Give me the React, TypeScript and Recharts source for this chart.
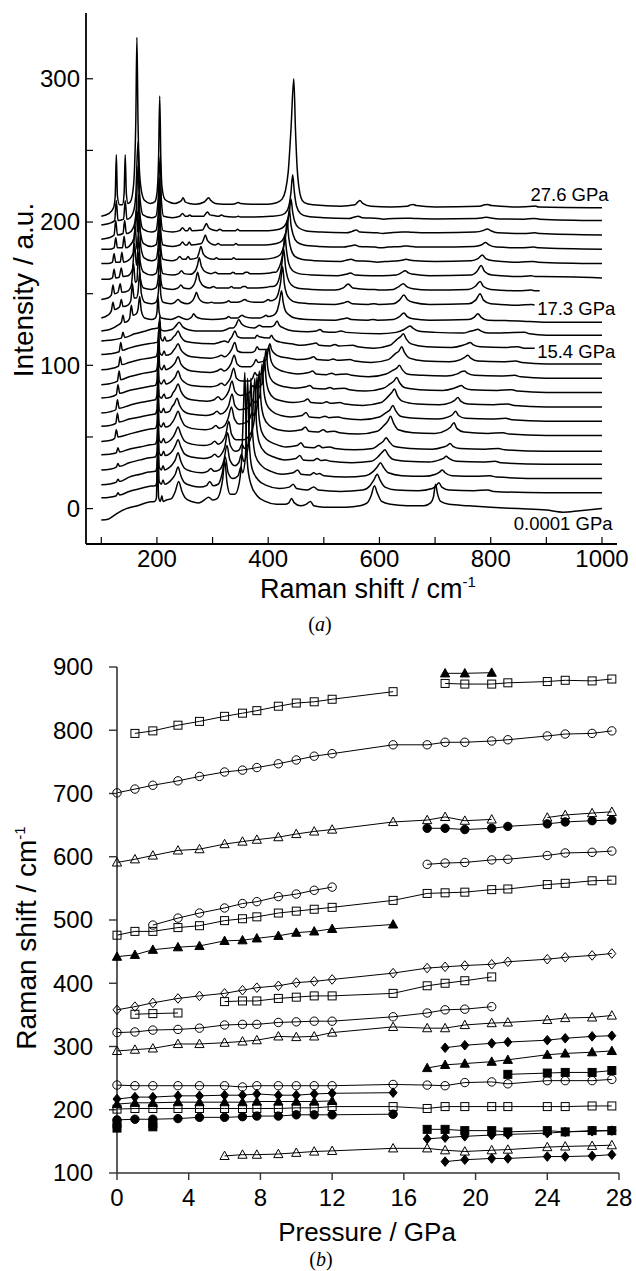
import React from 'react'
import { LineChart, Line, XAxis, YAxis, ReferenceDot } from 'recharts'

const SANS = '"Liberation Sans", Arial, Helvetica, sans-serif'
const SERIF = '"Liberation Serif", "Times New Roman", serif'

// ---------- panel (a): Raman spectra, bottom (0.0001 GPa) to top (27.6 GPa) ----------
const pressures = [0, 1, 2, 3.4, 4.6, 6.0, 7.0, 7.8, 9.0, 10.0, 11.0, 12.0, 15.4, 17.3, 18.3, 19.4, 20.9, 21.8, 24.0, 25.0, 26.5, 27.6]
// vertical offset of each trace (a.u.)
const offsets = [0, 11, 21, 31, 40, 51, 61, 71, 81, 91, 101, 111, 121, 130, 141, 151, 161, 171, 181, 191, 201, 210]

// [Raman shift, intensity above the trace offset]
const spec0 = [[100,-8],[112,-7.5],[122,-5],[130,-3],[145,0],[165,2],[184,4.5],[196,5],[199,7],[201,38],[203,8],[206,5],[209,9],[211,5],[217,6],[226,7],[233,12],[239,19],[245,12],[252,7],[262,5],[275,4],[285,6],[293,8],[300,6],[308,7],[314,12],[318,20],[322,33],[326,18],[332,10],[340,10],[348,18],[353,40],[356,75],[358,95],[360,60],[363,30],[369,17],[380,9],[395,5],[415,3],[430,3],[437,4],[442,7],[447,4],[458,2],[468,3],[476,5],[482,2],[500,1],[540,1],[565,2],[578,4],[585,9],[591,16],[596,11],[604,5],[620,3],[650,2],[680,2],[692,4],[697,8],[701,17],[704,11],[710,5],[725,3],[760,2],[800,1],[850,0],[900,-1],[930,-2.5],[960,-1.5],[1000,0]]
const spec1 = [[100,-3.5],[115,-3],[127,-2],[130,0],[133,-1.5],[150,1],[170,3],[185,4.5],[197,5],[200,8],[202,31],[204,8],[208,6],[211,9],[214,6],[220,7],[228,10],[233,13],[238,18],[243,12],[250,7],[262,5],[278,4],[289,5],[295,8],[301,5],[310,6],[317,13],[323,25],[328,14],[336,10],[346,12],[351,18],[354,14],[359,25],[363,80],[366,35],[371,17],[382,9],[398,5],[420,3],[438,4],[445,6],[451,3],[470,2],[482,4],[490,2],[530,1],[570,2],[583,5],[590,9],[596,13],[601,9],[610,4],[630,2],[670,1.5],[695,3],[702,5],[707,7],[712,4],[725,2],[770,1.5],[795,2],[805,1],[900,0],[1000,0]]
const spec2 = [[100,-4.4],[115,-3.8],[127,-2.5],[130,-0.5],[133,-2],[150,1],[170,3],[185,4.5],[197,5],[200,8],[202,29],[204,8],[208,6],[211,9],[214,6],[220,7],[228,10],[233,13],[238,18],[243,12],[250,7],[262,5],[280,4],[291,5],[297,7],[303,5],[312,6],[320,12],[326,23],[331,13],[340,9],[347,11],[352,17],[356,12],[364,22],[369,70],[372,32],[377,16],[388,9],[405,5],[425,3],[445,4],[453,6],[459,3],[475,2.5],[482,4],[487,3],[492,3.5],[500,2],[540,1],[575,2],[589,5],[596,8],[602,11],[607,8],[616,4],[640,2],[680,1.5],[701,3],[708,4.5],[713,6],[718,4],[730,2],[775,1.5],[799,2],[810,1],[900,0],[1000,0]]
const spec3 = [[100,-4],[115,-3.5],[127,-2],[130,0.5],[133,-1.5],[150,1],[170,3],[186,4.5],[197,5],[200,8],[202,28],[204,8],[208,6],[212,9],[215,6],[222,7],[229,10],[233,13],[238,17],[243,12],[250,7],[262,5],[285,4],[297,5],[304,7],[310,5],[316,7],[322,12],[327,22],[332,13],[341,9],[348,10],[353,14],[357,11],[370,20],[376,60],[379,28],[384,15],[395,8],[410,5],[430,3],[450,4],[457,6],[463,3],[480,2.5],[488,4],[495,2.5],[503,3],[512,2],[550,1],[585,2],[597,5],[604,8],[610,10],[615,7],[624,3.5],[650,2],[690,1.5],[708,3],[715,4],[720,5.5],[725,4],[738,2],[785,1.5],[808,2],[818,1],[900,0],[1000,0]]
const spec4 = [[100,-2.4],[115,-2],[127,-1],[130,2.5],[133,-0.5],[150,1.5],[170,3],[188,4.5],[197,5],[200,8],[202,27],[204,8],[208,6],[212,9],[215,6],[222,7],[229,10],[233,13],[238,17],[243,12],[250,7],[262,5],[285,4],[297,5],[304,7],[310,5],[318,7],[324,12],[329,21],[334,12],[343,8],[355,8],[368,12],[375,22],[380,52],[383,26],[388,14],[398,8],[413,5],[432,3],[452,4],[459,6],[465,3],[482,2.5],[491,4],[498,2.5],[511,3],[520,2],[555,1],[588,2],[600,5],[607,7],[612,9.5],[617,7],[626,3.5],[655,2],[695,1.5],[715,3],[722,4],[727,5.5],[732,3.5],[745,2],[790,1.5],[814,2],[825,1],[900,0],[1000,0]]
const spec5 = [[100,-4.1],[115,-3.5],[124,-2],[127,4],[130,-1],[150,1],[170,3],[188,4.5],[197,5],[200,8],[202,27],[204,8],[208,6],[212,9],[215,6],[223,7],[229,10],[233,13],[238,17],[243,12],[250,7],[262,5],[287,4],[299,5],[306,7],[312,5],[322,7],[328,12],[334,20],[339,12],[348,8],[360,9],[367,12],[371,16],[375,14],[380,20],[384,45],[387,24],[392,13],[402,7],[418,4],[438,3],[460,4],[467,6],[473,3],[490,2.5],[499,4],[506,2.5],[519,3],[528,2],[562,1],[596,3],[608,7],[615,10],[620,13.5],[625,9],[634,4],[660,2],[700,1.5],[721,4],[728,6],[734,9],[739,5],[752,2.5],[795,1.5],[822,2],[833,1],[900,0],[1000,0]]
const spec6 = [[100,-3.6],[115,-3],[126,-1.5],[129,5.5],[132,-0.5],[150,1.5],[170,3],[189,4.5],[197,5],[200,8],[202,27],[204,8],[208,6],[212,9],[215,6],[223,7],[227,10],[231,12],[236,16],[241,11],[248,7],[260,5],[289,4],[301,5],[308,7],[314,5],[323,7],[329,11],[335,19],[340,11],[349,8],[362,9],[368,11],[372,15],[376,13],[385,18],[389,40],[392,22],[397,12],[407,7],[423,4],[440,3],[461,4],[468,6],[474,3],[493,2.5],[502,3.5],[509,2.5],[526,3],[535,2],[566,1],[600,3],[612,6],[619,8],[624,11],[629,7.5],[638,3.5],[665,2],[705,1.5],[724,3],[731,4.5],[737,7],[742,4],[755,2],[800,1.5],[827,2],[838,1],[900,0],[1000,0]]
const spec7 = [[100,-4.3],[115,-3.5],[126,-2],[129,5],[132,-1],[150,1],[170,3],[190,4.5],[197,5],[200,8],[202,26],[204,8],[208,6],[213,9],[216,6],[225,7],[229,10],[233,12],[238,16],[243,11],[250,7],[262,5],[291,4],[303,5],[310,7],[316,5],[323,7],[329,11],[335,18],[340,11],[350,8],[362,9],[368,11],[372,15],[377,13],[389,16],[393,35],[396,20],[401,11],[411,6],[427,4],[445,3],[464,4],[471,5.5],[477,3],[496,2.5],[505,3.5],[512,2.5],[529,3],[538,2],[570,1],[603,3],[615,7],[622,10],[627,12.5],[632,8],[641,4],[668,2],[708,1.5],[728,3],[735,4.5],[741,6.5],[746,4],[759,2],[805,1.5],[831,2],[842,1],[900,0],[1000,0]]
const spec8 = [[100,-3.8],[115,-3.2],[127,-1.5],[130,5.5],[133,-0.5],[150,1.5],[170,3],[190,4.5],[197,5],[200,8],[202,26],[204,8],[208,6],[213,9],[216,6],[223,7],[229,9],[233,11],[238,15],[243,10],[250,7],[262,5],[297,4],[309,5],[316,6.5],[322,5],[327,7],[332,10],[338,17],[343,10],[352,8],[366,8],[372,10],[376,14],[380,12],[392,15],[396,30],[399,18],[404,10],[414,6],[430,4],[448,3],[468,4],[475,5],[481,3],[502,2.5],[511,3.5],[518,2.5],[537,3],[546,2],[575,1],[607,3],[619,6],[626,8],[631,10.5],[636,7],[645,3.5],[672,2],[714,1.5],[734,3],[741,4],[747,5],[752,3.5],[765,2],[812,1.5],[838,2],[849,1],[900,0],[1000,0]]
const spec9 = [[100,-4.5],[115,-3.8],[129,-2],[132,5],[135,-1],[150,1],[170,3],[192,4.5],[198,5],[201,8],[203,25],[205,8],[209,6],[213,9],[216,6],[223,7],[229,9],[233,11],[238,15],[243,10],[250,7],[262,5],[296,4],[308,5],[315,6.5],[321,5],[328,7],[333,10],[339,16],[344,10],[353,8],[368,8],[374,10],[378,13],[382,11],[397,13],[401,22],[404,14],[409,9],[419,6],[435,4],[453,3],[473,4],[480,5],[486,3],[505,2.5],[514,3.5],[521,2.5],[541,3],[550,2],[580,1],[612,3],[624,5.5],[631,7],[636,9],[641,6],[650,3],[677,2],[720,1.5],[740,3],[747,4.5],[753,5],[758,3.5],[771,2],[817,1.5],[843,2],[854,1],[900,0],[1000,0]]
const spec10 = [[100,-4],[115,-3.5],[131,-1.5],[134,5],[137,-0.5],[150,1],[170,3],[192,4.5],[198,5],[201,8],[203,24],[205,8],[209,6],[213,9],[216,6],[225,7],[229,9],[233,11],[238,14],[243,10],[250,7],[262,5],[297,4],[309,5],[316,6],[322,5],[329,7],[334,10],[340,15],[345,9],[354,8],[370,8],[376,9],[380,12],[384,10],[399,10],[403,14],[406,10],[412,7],[422,5],[438,4],[456,3],[475,4],[482,5],[488,3],[508,2.5],[517,3.5],[524,2.5],[547,3],[556,2],[585,1],[616,3],[628,7],[635,9],[640,12],[645,8],[654,4],[681,2],[726,1.5],[746,3],[753,4.5],[759,6],[764,4],[777,2],[820,1.5],[845,2],[856,1],[900,0],[1000,0]]
const spec11 = [[100,-3.5],[115,-3],[132,-1.5],[135,5],[138,-0.5],[150,1],[170,3],[192,4.5],[200,5],[203,8],[205,23],[207,8],[211,6],[214,9],[217,6],[226,7],[230,9],[233,10],[238,13],[243,9],[250,6],[262,5],[300,4],[312,5],[322,6],[328,5],[331,7],[335,9],[340,13],[345,9],[354,8],[370,8],[376,8],[380,10],[384,9],[402,8],[406,10],[409,8],[415,6],[425,5],[442,4],[460,3],[479,4],[486,4.5],[492,3],[511,2.5],[520,3.5],[527,2.5],[552,3],[561,2],[590,1],[619,3],[631,7],[638,9],[643,11],[648,7.5],[657,4],[684,2],[730,1.5],[750,3],[757,4],[763,5],[768,3.5],[781,2],[825,1.5],[849,2],[860,1],[879,1]]
const spec12 = [[100,-4],[115,-3.5],[136,-2],[139,2],[142,-1.5],[160,1],[180,3],[193,4.5],[202,5],[205,10],[207,4],[213,3],[227,4],[233,6],[240,9],[246,6],[255,4],[270,3],[315,3],[325,4],[331,5],[337,5],[342,7],[347,11],[352,8],[360,6],[375,5],[380,6],[384,7],[390,6],[405,6],[411,7],[416,10],[420,7],[428,5],[445,3],[470,2.5],[487,3],[493,4],[499,2.5],[520,2],[531,3],[540,2],[600,1],[630,2],[644,4],[650,5.5],[655,6.5],[660,5],[670,3],[700,2],[750,1.5],[765,3],[771,3.5],[777,4.2],[782,3],[795,1.5],[861,2],[870,1],[900,0],[1000,0]]
const spec13 = [[100,-6],[115,-5],[130,-2],[136,0],[139,5],[142,0],[148,1],[151,3],[154,12],[157,5],[163,6],[166,9],[169,18],[172,8],[178,3],[190,2],[197,3],[200,7],[202,18],[204,7],[208,3],[225,2],[233,3],[239,4],[245,3],[255,2],[260,3],[263,4],[266,6],[270,4],[280,2.5],[300,2],[320,2.5],[325,3],[329,4],[333,3],[345,3],[349,4],[353,5],[357,4],[370,3],[385,3],[392,4],[396,5],[400,4],[410,5],[416,8],[420,14],[424,22],[427,14],[431,8],[438,5],[448,3],[470,2],[520,1.5],[535,2.5],[542,3],[549,2],[580,1.5],[588,2],[596,1.5],[625,2],[636,4],[644,6.5],[650,4],[660,2.5],[690,1.5],[760,2],[770,3.5],[777,6],[783,3.5],[795,1.5],[850,1],[900,0],[1000,0]]
const spec14 = [[100,-8],[112,-6],[118,-3],[121,3],[124,-2],[130,-1],[133,0],[136,5],[139,0],[148,1],[153,4],[156,16],[159,6],[163,6],[166,10],[169,24],[172,9],[178,3],[190,2],[198,3],[202,8],[205,22],[207,8],[211,3],[225,2],[232,3],[238,5],[244,3],[255,2],[264,4],[268,7],[271,10],[275,6],[283,3],[292,2.5],[298,3],[303,2.5],[315,2.5],[324,3],[329,4],[333,3],[345,3],[353,4],[358,5],[362,4],[375,3],[390,3],[396,4],[400,5],[404,4],[412,5],[418,9],[422,16],[426,28],[429,16],[433,9],[440,5],[450,3],[475,2],[520,1.5],[535,2.5],[543,3.5],[551,2],[580,1.5],[590,2],[598,1.5],[625,2],[636,4.5],[644,8],[650,5],[660,3],[690,1.5],[760,2],[773,4.5],[781,9],[787,4.5],[800,2],[850,1],[874,1.5],[879,1]]
const spec15 = [[100,-5],[112,-4],[118,-2],[121,5],[124,-1],[130,0],[134,6],[137,0],[148,1],[154,5],[158,20],[161,7],[164,8],[167,28],[170,10],[176,3],[190,2],[198,3],[202,9],[205,26],[207,9],[211,3],[228,2],[238,3],[243,5],[248,3],[258,2.5],[266,5],[270,9],[273,14],[277,8],[285,4],[295,3],[302,4],[307,3],[320,3],[329,3],[334,4],[338,3],[350,3],[355,4],[359,4],[363,3],[380,3],[398,3.5],[404,4],[408,4],[414,5],[420,10],[424,18],[428,30],[431,18],[435,10],[442,5],[452,3],[478,2],[520,1.5],[535,3],[544,5.8],[552,3],[580,2],[591,2],[600,1.5],[625,2],[635,4],[643,6],[649,4],[660,2.5],[690,1.5],[760,2],[772,4],[781,7.5],[787,4],[800,2],[850,1],[873,1.5],[880,1],[888,1]]
const spec16 = [[100,-1],[112,-1],[120,0],[123,6],[126,0],[132,0.5],[136,7],[139,1],[148,1.5],[156,6],[160,24],[163,9],[164,9],[167,30],[170,11],[176,4],[190,2],[198,3],[202,10],[205,30],[207,10],[211,3],[228,2],[239,3],[244,5],[249,3],[260,2.5],[269,5],[273,9],[276,14],[280,8],[288,4],[298,3],[305,4],[310,3],[322,3],[332,3],[337,4],[341,3],[355,3],[359,4],[363,4],[367,3],[385,3],[404,3.5],[410,4],[414,4],[418,6],[423,11],[427,19],[430,30],[433,19],[437,10],[444,5],[455,3],[480,2],[525,1.5],[540,2.5],[548,3.5],[556,2],[585,1.5],[595,1.6],[605,1.5],[630,2],[639,3.5],[646,5],[652,3.5],[662,2.5],[690,1.5],[765,2],[775,4.5],[783,8.6],[789,4.5],[802,2],[850,1],[873,1.5],[880,1],[890,1],[1000,0]]
const spec17 = [[100,0],[112,0],[120,1],[123,7],[126,1],[134,1],[137,8],[140,1],[148,2],[157,7],[161,26],[164,10],[165,10],[168,34],[171,12],[177,4],[190,2],[198,3],[202,11],[205,32],[207,11],[211,3],[226,2],[236,3],[241,5],[246,3],[252,3],[256,5],[260,3],[272,4],[276,8],[279,12],[283,7],[291,4],[302,3],[307,4],[312,3],[325,3],[334,3],[338,4],[342,3],[360,3],[390,3],[410,4],[421,6],[427,11],[431,18],[434,30],[437,18],[441,10],[448,5],[460,3],[485,2],[530,1.5],[542,2.5],[549,3],[557,2],[585,1.5],[596,1],[610,1.5],[635,2],[642,2.5],[648,3],[654,2.5],[665,2],[700,1.5],[765,2],[777,3.5],[785,6],[791,3.5],[805,2],[850,1],[875,1.5],[885,1],[1000,0]]
const spec18 = [[100,0],[114,0],[123,1],[126,8],[129,1],[138,1],[141,9],[144,1],[150,2],[159,8],[163,28],[165,12],[167,38],[170,13],[176,4],[190,2],[198,3],[202,12],[205,36],[207,12],[211,3],[228,2],[241,3],[246,5],[251,3],[254,3],[258,5],[262,3],[280,4],[284,7],[287,10],[291,6],[299,3.5],[305,3],[310,4],[315,3],[330,3],[338,3],[342,4],[346,3],[365,3],[395,3],[415,4],[425,6],[431,11],[435,17],[438,28],[441,17],[445,10],[452,5],[464,3],[490,2],[535,1.5],[549,2.5],[556,3],[563,2],[592,1.5],[602,1],[615,1.5],[640,2],[645,2.2],[650,2.3],[656,2],[670,1.5],[700,1.5],[770,2],[783,3],[791,4.7],[797,3],[810,1.5],[855,1],[877,1.5],[887,1],[1000,0]]
const spec19 = [[100,-3],[114,-2],[123,0],[126,10],[129,0],[139,1],[142,10],[145,1],[152,2],[160,8],[163,18],[166,48],[169,16],[175,4],[190,2],[198,3],[202,13],[205,40],[207,13],[211,3],[228,2],[241,3],[246,5],[251,3],[255,3],[259,5],[263,3],[282,3.5],[286,6],[289,8],[293,5],[301,3.5],[308,3],[313,4],[318,3],[333,3],[341,3],[345,4],[349,3],[370,3],[400,3],[420,4],[429,6],[435,11],[438,16],[441,25],[444,16],[448,9],[455,5],[467,3],[495,2],[540,1.5],[551,2.5],[558,3.5],[565,2],[596,1.5],[606,1],[620,1.5],[640,2],[646,2],[652,2],[658,1.8],[675,1.5],[705,1.5],[772,2],[786,3],[794,4.2],[800,3],[812,1.5],[860,1],[879,1.5],[889,1],[1000,0]]
const spec20 = [[100,-3],[114,-2],[124,0],[127,14],[130,0],[140,1],[143,14],[146,1],[152,2],[159,8],[162,18],[166,55],[169,18],[175,4],[190,2],[198,3],[202,14],[206,45],[208,14],[212,3],[228,2],[241,3],[246,5],[251,3],[255,3],[259,4],[263,3],[284,3],[288,5],[291,6],[295,4],[303,3.5],[311,3],[316,4],[321,3],[336,2.5],[342,2.5],[346,3],[350,2.5],[375,2.5],[405,3],[425,4],[434,7],[439,14],[441,20],[444,32],[447,20],[451,10],[458,5],[470,3],[500,2],[545,1.5],[555,2.5],[562,3],[569,2],[598,1.5],[607,1],[625,1.5],[648,1.6],[657,1.6],[665,1.5],[700,1.2],[775,1.5],[786,2],[792,2.3],[798,2],[815,1.2],[860,1],[878,1.5],[888,1],[1000,0]]
const spec21 = [[100,-6],[114,-4],[122,0],[125,8],[127,37],[129,8],[133,2],[138,2],[141,10],[143,37],[145,10],[148,3],[152,4],[157,12],[160,30],[162,60],[164,119],[166,60],[168,30],[172,12],[178,5],[188,3],[196,4],[200,10],[203,35],[205,78],[207,35],[209,15],[214,6],[222,4],[232,3],[240,4],[244,5],[247,7],[251,4],[258,3],[270,2.5],[285,4],[290,6],[293,7],[297,5],[305,3],[320,2.5],[335,2.5],[342,3],[346,3.7],[350,3],[370,2.5],[400,2.5],[415,3.5],[425,6],[431,12],[436,25],[441,55],[446,90],[449,55],[452,28],[455,15],[459,7],[465,3.5],[480,2],[530,1],[556,2],[561,4],[565,5],[570,3],[585,1],[620,0.5],[650,1],[656,2],[661,2.3],[666,1.5],[700,0.5],[780,1],[789,2],[795,2.3],[801,1.5],[850,0.5],[875,1],[880,1.2],[886,0.5],[1000,0]]

const spectra = [spec0, spec1, spec2, spec3, spec4, spec5, spec6, spec7, spec8, spec9, spec10, spec11, spec12, spec13, spec14, spec15, spec16, spec17, spec18, spec19, spec20, spec21]

// pressure labels: [text, right-end shift, level]
const traceLabels: [string, number, number][] = [
  ['27.6 GPa', 1012, 219],
  ['17.3 GPa', 1024, 140],
  ['15.4 GPa', 1024, 110],
  ['0.0001 GPa', 1019, -10],
]

// ---------- panel (b): band positions vs pressure, [GPa, cm-1] ----------
const sqA = [[1,795],[2,799],[3.4,808],[4.6,814],[6,822],[7,827],[7.8,831],[9,838],[10,843],[11,845],[12,849],[15.4,861]]
const sqB = [[18.3,874],[19.4,873],[20.9,873],[21.8,875],[24,877],[25,879],[26.5,878],[27.6,881]]
const triC = [[18.3,890],[19.4,890],[20.9,891]]
const cirD = [[0,701],[1,707],[2,713],[3.4,720],[4.6,727],[6,734],[7,737],[7.8,741],[9,747],[10,753],[11,759],[12,763],[15.4,777],[17.3,777],[18.3,781],[19.4,781],[20.9,783],[21.8,785],[24,791],[25,794],[26.5,795],[27.6,799]]
const triE1 = [[0,591],[1,596],[2,602],[3.4,610],[4.6,612],[6,620],[7,624],[7.8,627],[9,631],[10,636],[11,640],[12,643],[15.4,655],[17.3,658],[18.3,663],[19.4,657],[20.9,659]]
const triE2 = [[24,662],[25,666],[26.5,669],[27.6,671]]
const cirF = [[17.3,645],[18.3,645],[19.4,643],[20.9,645],[21.8,648],[24,652],[25,655],[26.5,657],[27.6,658]]
const cirG = [[17.3,588],[18.3,590],[19.4,591],[20.9,595],[21.8,596],[24,602],[25,606],[26.5,607],[27.6,609]]
const cirH = [[2,492],[3.4,503],[4.6,511],[6,519],[7,526],[7.8,529],[9,537],[10,541],[11,547],[12,552]]
const sqI = [[0,476],[1,482],[2,482],[3.4,488],[4.6,491],[6,499],[7,502],[7.8,505],[9,511],[10,514],[11,517],[12,520],[15.4,531],[17.3,542],[18.3,543],[19.4,544],[20.9,548],[21.8,549],[24,556],[25,558],[26.5,562],[27.6,563]]
const triJ = [[0,442],[1,445],[2,453],[3.4,457],[4.6,459],[6,467],[7,468],[7.8,471],[9,475],[10,480],[11,482],[12,486],[15.4,493]]
const diaK = [[0,358],[1,363],[2,369],[3.4,376],[4.6,380],[6,384],[7,389],[7.8,393],[9,396],[10,401],[11,403],[12,406],[15.4,416],[17.3,424],[18.3,426],[19.4,428],[20.9,430],[21.8,434],[24,438],[25,441],[26.5,444],[27.6,447]]
const sqL = [[1,351],[2,352],[3.4,353]]
const sqM = [[6,371],[7,372],[7.8,372],[9,376],[10,378],[11,380],[12,380],[15.4,384],[17.3,396],[18.3,400],[19.4,404],[20.9,410]]
const cirN = [[0,322],[1,323],[2,326],[3.4,327],[4.6,329],[6,334],[7,335],[7.8,335],[9,338],[10,339],[11,340],[12,340],[15.4,347],[17.3,353],[18.3,358],[19.4,359],[20.9,363]]
const triO = [[0,293],[1,295],[2,297],[3.4,304],[4.6,304],[6,306],[7,308],[7.8,310],[9,316],[10,315],[11,316],[12,322],[15.4,331],[17.3,329],[18.3,329],[19.4,334],[20.9,337],[21.8,338],[24,342],[25,345],[26.5,346],[27.6,349]]
const diaP = [[18.3,298],[19.4,302],[20.9,305],[21.8,307],[24,310],[25,313],[26.5,316],[27.6,317]]
const triQ = [[17.3,266],[18.3,271],[19.4,273],[20.9,276],[21.8,279],[24,287],[25,289],[26.5,291],[27.6,293]]
const sqR = [[21.8,256],[24,258],[25,259],[26.5,259],[27.6,262]]
const cirS = [[0,239],[1,238],[2,238],[3.4,238],[4.6,238],[6,238],[7,236],[7.8,238],[9,238],[10,238],[11,238],[12,238],[15.4,240],[17.3,239],[18.3,238],[19.4,243],[20.9,244],[21.8,241],[24,246],[25,246],[26.5,246],[27.6,248]]
const diaT = [[0,217],[1,220],[2,220],[3.4,222],[4.6,222],[6,223],[7,223],[7.8,225],[9,223],[10,223],[11,225],[12,226],[15.4,227]]
const triU = [[0,209],[1,211],[2,211],[3.4,212],[4.6,212],[6,212],[7,212],[7.8,213],[9,213],[10,213],[11,213],[12,214]]
const sqV = [[0,201],[1,202],[2,202],[3.4,202],[4.6,202],[6,202],[7,202],[7.8,202],[9,202],[10,203],[11,203],[12,205],[15.4,205],[17.3,202],[18.3,205],[19.4,205],[20.9,205],[21.8,205],[24,205],[25,205],[26.5,206],[27.6,206]]
const cirW = [[0,184],[1,185],[2,185],[3.4,186],[4.6,188],[6,188],[7,189],[7.8,190],[9,190],[10,192],[11,192],[12,192],[15.4,193]]
const sqX = [[0,171],[0,178],[2,173],[2,178]]
const sqY = [[17.3,169],[18.3,169],[19.4,167],[20.9,167],[21.8,165],[24,167],[25,165],[26.5,167],[27.6,167]]
const diaZ = [[17.3,154],[18.3,156],[19.4,158],[20.9,160],[21.8,161],[24,163],[25,165],[26.5,166],[27.6,167]]
const triAA = [[6,127],[7,129],[7.8,129],[9,130],[10,132],[11,134],[12,135],[15.4,139],[17.3,139],[18.3,136],[19.4,134],[20.9,136],[21.8,137],[24,141],[25,142],[26.5,143],[27.6,144]]
const diaAB = [[18.3,118],[19.4,121],[20.9,123],[21.8,123],[24,126],[25,126],[26.5,127],[27.6,129]]

type Mk = 'sq' | 'ci' | 'tr' | 'di'
const bands: { d: number[][]; mk: Mk; filled: boolean; joined: boolean }[] = [
  { d: sqA, mk: 'sq', filled: false, joined: true },
  { d: sqB, mk: 'sq', filled: false, joined: true },
  { d: triC, mk: 'tr', filled: true, joined: true },
  { d: cirD, mk: 'ci', filled: false, joined: true },
  { d: triE1, mk: 'tr', filled: false, joined: true },
  { d: triE2, mk: 'tr', filled: false, joined: true },
  { d: cirF, mk: 'ci', filled: true, joined: true },
  { d: cirG, mk: 'ci', filled: false, joined: true },
  { d: cirH, mk: 'ci', filled: false, joined: true },
  { d: sqI, mk: 'sq', filled: false, joined: true },
  { d: triJ, mk: 'tr', filled: true, joined: true },
  { d: diaK, mk: 'di', filled: false, joined: true },
  { d: sqL, mk: 'sq', filled: false, joined: true },
  { d: sqM, mk: 'sq', filled: false, joined: true },
  { d: cirN, mk: 'ci', filled: false, joined: true },
  { d: triO, mk: 'tr', filled: false, joined: true },
  { d: diaP, mk: 'di', filled: true, joined: true },
  { d: triQ, mk: 'tr', filled: true, joined: true },
  { d: sqR, mk: 'sq', filled: true, joined: true },
  { d: cirS, mk: 'ci', filled: false, joined: true },
  { d: diaT, mk: 'di', filled: true, joined: true },
  { d: triU, mk: 'tr', filled: true, joined: true },
  { d: sqV, mk: 'sq', filled: false, joined: true },
  { d: cirW, mk: 'ci', filled: true, joined: true },
  { d: sqX, mk: 'sq', filled: true, joined: false },
  { d: sqY, mk: 'sq', filled: true, joined: true },
  { d: diaZ, mk: 'di', filled: true, joined: true },
  { d: triAA, mk: 'tr', filled: false, joined: true },
  { d: diaAB, mk: 'di', filled: true, joined: true },
]

const pressureTicks = [0, 4, 8, 12, 16, 20, 24, 28]
const shiftTicks = [100, 200, 300, 400, 500, 600, 700, 800, 900]
const ramanTicks = [100, 200, 300, 400, 500, 600, 700, 800, 900, 1000]
const intensityTicks = [0, 50, 100, 150, 200, 250, 300]

function markerFor(mk: Mk, filled: boolean) {
  return (p: any) => {
    const { cx, cy, index } = p
    const key = `m${index}`
    if (cx == null || cy == null) return <g key={key} />
    const st = { stroke: '#000', strokeWidth: 1, fill: filled ? '#000' : 'none' }
    if (mk === 'sq') return <rect key={key} x={cx - 4} y={cy - 4} width={8} height={8} {...st} />
    if (mk === 'ci') return <circle key={key} cx={cx} cy={cy} r={4.2} {...st} />
    if (mk === 'tr')
      return <polygon key={key} points={`${cx},${cy - 4.8} ${cx - 4.6},${cy + 3.6} ${cx + 4.6},${cy + 3.6}`} {...st} />
    return <polygon key={key} points={`${cx},${cy - 4.8} ${cx + 4},${cy} ${cx},${cy + 4.8} ${cx - 4},${cy}`} {...st} />
  }
}

const tickLabel = (every: number, anchor: 'middle' | 'end', dy: string, size: number) => (props: any) => {
  const { x, y, payload } = props
  if (payload.value % every !== 0) return <g />
  return (
    <text x={x} y={y} dy={dy} textAnchor={anchor} fontFamily={SANS} fontSize={size} fill="#000">
      {payload.value}
    </text>
  )
}

function SpectraPanel() {
  return (
    <LineChart width={636} height={640} margin={{ top: 13, right: 19, bottom: 6, left: 6 }}>
      <XAxis
        dataKey="x"
        type="number"
        domain={[72.5, 1027]}
        ticks={ramanTicks}
        interval={0}
        height={90}
        tickSize={-7}
        tickMargin={13}
        axisLine={{ stroke: '#000', strokeWidth: 1.8 }}
        tickLine={{ stroke: '#000', strokeWidth: 1.2 }}
        tick={tickLabel(200, 'middle', '0.71em', 24)}
      />
      <XAxis
        xAxisId="top"
        orientation="top"
        type="number"
        domain={[72.5, 1027]}
        ticks={ramanTicks}
        interval={0}
        height={0}
        tickSize={-7}
        axisLine={{ stroke: '#000', strokeWidth: 1.8 }}
        tickLine={{ stroke: '#000', strokeWidth: 1.2 }}
        tick={false}
      />
      <YAxis
        type="number"
        domain={[-24.7, 345.9]}
        ticks={intensityTicks}
        interval={0}
        width={80}
        tickSize={-7}
        tickMargin={13}
        axisLine={{ stroke: '#000', strokeWidth: 1.8 }}
        tickLine={{ stroke: '#000', strokeWidth: 1.2 }}
        tick={tickLabel(100, 'end', '0.35em', 24)}
      />
      <YAxis
        yAxisId="right"
        orientation="right"
        type="number"
        domain={[-24.7, 345.9]}
        ticks={intensityTicks}
        interval={0}
        width={0}
        tickSize={-7}
        axisLine={{ stroke: '#000', strokeWidth: 1.8 }}
        tickLine={{ stroke: '#000', strokeWidth: 1.2 }}
        tick={false}
      />
      {spectra.map((sp, k) => (
        <Line
          key={`sp${k}`}
          name={`${pressures[k]} GPa`}
          data={sp.map(([x, y]) => ({ x, y: y + offsets[k] }))}
          dataKey="y"
          type="monotone"
          stroke="#000"
          strokeWidth={1.5}
          dot={false}
          activeDot={false}
          isAnimationActive={false}
        />
      ))}
      {traceLabels.map(([text, x, y]) => (
        <ReferenceDot
          key={text}
          x={x}
          y={y}
          r={0}
          fill="none"
          stroke="none"
          label={{ value: text, position: 'left', offset: 0, fontSize: 18.5, fill: '#000', fontFamily: SANS }}
        />
      ))}
    </LineChart>
  )
}

function BandsPanel() {
  return (
    <LineChart width={636} height={631} margin={{ top: 27, right: 17, bottom: 6, left: 7 }}>
      <XAxis
        dataKey="p"
        type="number"
        domain={[0, 28]}
        ticks={pressureTicks}
        interval={0}
        height={92}
        tickSize={7}
        tickMargin={9}
        axisLine={{ stroke: '#333', strokeWidth: 1.6 }}
        tickLine={{ stroke: '#333', strokeWidth: 1.4 }}
        tick={tickLabel(4, 'middle', '0.71em', 24)}
      />
      <YAxis
        type="number"
        domain={[100, 900]}
        ticks={shiftTicks}
        interval={0}
        width={110}
        tickSize={8}
        tickMargin={16}
        axisLine={{ stroke: '#333', strokeWidth: 1.6 }}
        tickLine={{ stroke: '#333', strokeWidth: 1.4 }}
        tick={tickLabel(100, 'end', '0.35em', 24)}
      />
      {bands.map((b, i) => (
        <Line
          key={`b${i}`}
          data={b.d.map(([p, v]) => ({ p, v }))}
          dataKey="v"
          type="linear"
          stroke={b.joined ? '#000' : 'none'}
          strokeWidth={1}
          dot={markerFor(b.mk, b.filled)}
          activeDot={false}
          isAnimationActive={false}
        />
      ))}
    </LineChart>
  )
}

export default function App() {
  return (
    <div style={{ position: 'absolute', left: 0, top: 0, width: 636, height: 1271, background: '#fff', overflow: 'hidden' }}>
      <div style={{ position: 'absolute', left: 0, top: 0 }}>
        <SpectraPanel />
      </div>
      <div style={{ position: 'absolute', left: 0, top: 640 }}>
        <BandsPanel />
      </div>
      <svg width={636} height={1271} style={{ position: 'absolute', left: 0, top: 0, pointerEvents: 'none' }}>
        <g fontFamily={SANS} fill="#000">
          <text x={368} y={598} fontSize={27} textAnchor="middle">
            Raman shift / cm<tspan dy={-11} fontSize={15}>-1</tspan>
          </text>
          <text transform="translate(33,290) rotate(-90)" fontSize={28} textAnchor="middle">
            Intensity / a.u.
          </text>
          <text x={367} y={1241} fontSize={26} textAnchor="middle">
            Pressure / GPa
          </text>
          <text transform="translate(36,938) rotate(-90)" fontSize={28} textAnchor="middle">
            Raman shift / cm<tspan dy={-11} fontSize={15}>-1</tspan>
          </text>
        </g>
        <g fontFamily={SERIF} fill="#000" fontSize={20}>
          <text x={320} y={631} textAnchor="middle">
            (<tspan fontStyle="italic">a</tspan>)
          </text>
          <text x={321} y={1266} textAnchor="middle">
            (<tspan fontStyle="italic">b</tspan>)
          </text>
        </g>
      </svg>
    </div>
  )
}
